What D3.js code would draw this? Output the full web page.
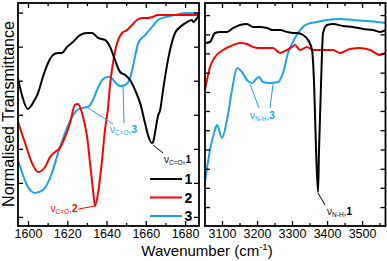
<!DOCTYPE html>
<html><head><meta charset="utf-8">
<script src="https://cdn.jsdelivr.net/npm/d3@7"></script>
<style>
body{margin:0;background:#fff}
svg{display:block}
text{font-family:"Liberation Sans",Arial,Helvetica,sans-serif}
</style>
</head><body>
<svg id="chart" width="387" height="261"></svg>
<script>
// ---------- DATA ----------
const seriesNames = ["1", "2", "3"];
const seriesColors = ["#000000", "#ff0000", "#1ba1ee"];

// Left panel: C=O stretching region (wavenumber, normalised transmittance %)
const leftWave1 = [1594.9,1596.9,1599.8,1601.5,1602.5,1605.1,1607.6,1610.2,1612.7,1615.3,1617.3,1619.9,1622.9,1626.5,1630.1,1632.6,1635.7,1639.2,1641.8,1644.3,1646.9,1649.4,1652.0,1654.5,1657.1,1659.6,1661.1,1663.2,1663.7,1664.7,1666.2,1667.3,1668.8,1671.3,1674.9,1677.5,1681.0,1683.6,1684.1,1686.1,1687.1];
const leftVal1  = [66.5,58.9,52.7,54.0,55.4,59.8,67.0,73.2,76.8,77.7,77.7,80.4,82.6,85.7,86.6,86.6,84.4,83.5,80.4,74.6,69.2,67.9,65.6,61.2,55.4,46.4,41.1,37.5,37.9,42.0,49.6,52.2,61.2,74.6,86.6,89.3,91.5,92.4,91.5,93.3,94.6];

const leftWave2 = [1594.9,1598.5,1602.0,1605.1,1608.7,1611.2,1613.8,1616.3,1618.9,1621.4,1623.9,1625.5,1627.5,1630.1,1631.6,1633.1,1634.1,1635.7,1637.7,1639.2,1640.8,1641.8,1643.3,1645.4,1647.9,1650.4,1653.0,1655.5,1658.1,1660.6,1663.2,1666.2,1673.4,1687.1];
const leftVal2  = [47.0,37.5,28.6,24.6,26.8,31.2,33.5,35.3,40.2,46.4,54.5,54.9,50.9,40.2,28.6,16.5,9.4,15.2,29.9,43.3,53.5,63.5,73.2,82.1,86.6,87.9,90.2,92.4,93.3,93.3,93.7,94.6,94.6,94.6];

const leftWave3 = [1594.9,1600.0,1603.6,1607.6,1612.2,1615.3,1618.9,1622.4,1625.0,1627.5,1630.6,1633.1,1635.2,1637.7,1640.3,1641.8,1644.3,1646.9,1649.4,1652.0,1654.5,1656.1,1659.6,1663.2,1666.2,1669.8,1674.9,1680.0,1687.1];
const leftVal3  = [29.9,17.9,15.2,16.5,24.1,33.0,42.0,49.1,52.2,53.1,53.6,56.7,61.2,65.6,67.0,67.0,64.7,62.9,63.4,66.5,75.9,82.1,85.7,89.3,92.4,93.7,94.6,95.5,95.5];

// Right panel: N-H stretching region
const rightWave1 = [3051.4,3065.7,3080.0,3094.3,3114.3,3131.4,3151.4,3171.4,3188.6,3208.6,3228.6,3245.7,3265.7,3285.7,3302.9,3314.3,3331.4,3345.7,3357.1,3362.9,3368.6,3374.3,3377.1,3382.9,3388.6,3400.0,3417.1,3445.7,3474.3,3502.9,3531.4,3551.4,3567.0];
const rightVal1  = [82.1,82.6,86.6,87.1,87.1,88.8,90.2,90.6,89.3,89.3,88.8,87.9,87.9,87.1,86.6,86.6,85.7,83.5,79.0,64.3,34.4,15.6,34.4,64.3,86.6,90.2,90.6,89.7,89.3,88.4,87.9,87.1,87.9];

const rightWave2 = [3051.4,3065.7,3080.0,3102.9,3131.4,3151.4,3171.4,3188.6,3202.9,3228.6,3245.7,3265.7,3280.0,3300.0,3308.6,3322.9,3342.9,3360.0,3388.6,3417.1,3437.1,3465.7,3494.3,3522.9,3551.4,3567.0];
const rightVal2  = [61.2,71.4,75.9,79.0,81.2,82.1,81.7,80.4,79.9,79.9,79.9,77.7,78.6,80.4,81.2,79.0,80.4,79.0,79.0,79.0,77.7,79.5,79.9,79.0,76.8,77.7];

const rightWave3 = [3051.4,3065.7,3080.0,3085.7,3100.0,3114.3,3128.6,3142.9,3157.1,3171.4,3185.7,3200.0,3205.7,3217.1,3237.1,3260.0,3274.3,3288.6,3308.6,3322.9,3342.9,3371.4,3400.0,3437.1,3474.3,3514.3,3542.9,3567.0];
const rightVal3  = [20.1,34.4,43.3,45.5,39.7,47.8,61.2,71.0,69.2,65.6,64.3,66.5,67.0,64.7,64.3,64.7,68.8,77.7,84.4,87.9,90.6,91.5,92.4,92.9,92.4,92.0,91.5,91.1];

// Tick labels / tick positions
const leftXTicks = [1600, 1620, 1640, 1660, 1680];
const leftXMinor = [1610, 1630, 1650, 1670];
const rightXTicks = [3100, 3200, 3300, 3400, 3500];
const rightXMinor = [3150, 3250, 3350, 3450, 3550];
const leftYTicks = [4.5, 19.7, 34.9, 50.1, 65.3, 80.5, 95.7];
const rightYTicks = [8.9, 17.5, 26.0, 34.6, 43.2, 51.8, 60.3, 68.9, 77.5, 86.0, 94.6];

// ---------- LAYOUT ----------
const svg = d3.select("#chart");
const plotTop = 3, plotBottom = 226;
const y = d3.scaleLinear().domain([0, 100]).range([227, 3]);
const xL = d3.scaleLinear().domain([1594.9, 1687.1]).range([18, 199]);
const xR = d3.scaleLinear().domain([3051.4, 3567]).range([205, 385.5]);

const panels = [
  {x: xL, xt: leftXTicks, xm: leftXMinor, yt: leftYTicks, id: "L",
   series: [[leftWave1, leftVal1], [leftWave2, leftVal2], [leftWave3, leftVal3]]},
  {x: xR, xt: rightXTicks, xm: rightXMinor, yt: rightYTicks, id: "R",
   series: [[rightWave1, rightVal1], [rightWave2, rightVal2], [rightWave3, rightVal3]]}
];

const defs = svg.append("defs");

panels.forEach(p => {
  const [x0, x1] = p.x.range();
  defs.append("clipPath").attr("id", "clip" + p.id)
    .append("rect").attr("x", x0).attr("y", plotTop).attr("width", x1 - x0).attr("height", plotBottom - plotTop);

  const g = svg.append("g");
  const line = d3.line().x(d => p.x(d[0])).y(d => y(d[1])).curve(d3.curveMonotoneX);
  const cg = g.append("g").attr("clip-path", `url(#clip${p.id})`);
  [2, 1, 0].forEach(i => {
    const [w, v] = p.series[i];
    cg.append("path").datum(w.map((d, k) => [d, v[k]]))
      .attr("d", line).attr("fill", "none")
      .attr("stroke", seriesColors[i]).attr("stroke-width", 2)
      .attr("stroke-linejoin", "round");
  });

  const axStyle = sel => {
    sel.select(".domain").remove();
    sel.selectAll(".tick line").attr("stroke", "#000").attr("stroke-width", 1.3);
  };
  g.append("g").attr("transform", `translate(0,${plotBottom})`)
    .call(d3.axisBottom(p.x).tickValues(p.xt).tickSizeInner(-5).tickSizeOuter(0).tickPadding(3.5).tickFormat(d3.format("d")))
    .call(axStyle)
    .call(s => s.selectAll("text").attr("font-size", 12.5).attr("fill", "#000")
      .style("font-family", '"Liberation Sans",Arial,sans-serif'));
  g.append("g").attr("transform", `translate(0,${plotBottom})`)
    .call(d3.axisBottom(p.x).tickValues(p.xm).tickSize(-3).tickFormat(""))
    .call(axStyle);
  g.append("g").attr("transform", `translate(0,${plotTop})`)
    .call(d3.axisTop(p.x).tickValues(p.xt).tickSize(-5).tickFormat(""))
    .call(axStyle);
  g.append("g").attr("transform", `translate(0,${plotTop})`)
    .call(d3.axisTop(p.x).tickValues(p.xm).tickSize(-3).tickFormat(""))
    .call(axStyle);
  g.append("g").attr("transform", `translate(${x0},0)`)
    .call(d3.axisLeft(y).tickValues(p.yt).tickSize(-5).tickFormat(""))
    .call(axStyle);
  g.append("g").attr("transform", `translate(${x1},0)`)
    .call(d3.axisRight(y).tickValues(p.yt).tickSize(-5).tickFormat(""))
    .call(axStyle);
  g.append("rect").attr("x", x0).attr("y", plotTop).attr("width", x1 - x0).attr("height", plotBottom - plotTop)
    .attr("fill", "none").attr("stroke", "#000").attr("stroke-width", 1.8);
});

// ---------- ANNOTATIONS (data-space anchors) ----------
const annotations = [
  {x: xL, color: "#000", sub: "C=O", num: "1", anchor: "start", tx: 1669.3, ty: 28.4,
   lines: [[1663.7, 36.6, 1668.8, 33.0]]},
  {x: xL, color: "#ff0000", sub: "C=O", num: "2", anchor: "end", tx: 1625.2, ty: 6.7,
   lines: [[1634.1, 9.4, 1625.7, 8.0]]},
  {x: xL, color: "#1ba1ee", sub: "C=O", num: "3", anchor: "start", tx: 1641.8, ty: 42.0,
   lines: [[1630.6, 53.1, 1643.3, 46.0], [1648.4, 62.9, 1648.9, 46.4]]},
  {x: xR, color: "#1ba1ee", sub: "N-H", num: "3", anchor: "start", tx: 3180, ty: 48.2,
   lines: [[3180, 63.8, 3205.7, 53.1], [3245.7, 63.8, 3237.1, 53.1]]},
  {x: xR, color: "#000", sub: "N-H", num: "1", anchor: "start", tx: 3400, ty: 5.4,
   lines: [[3374.3, 15.2, 3394.3, 9.8]]}
];
annotations.forEach(a => {
  a.lines.forEach(l => {
    svg.append("line").attr("x1", a.x(l[0])).attr("y1", y(l[1]))
      .attr("x2", a.x(l[2])).attr("y2", y(l[3]))
      .attr("stroke", a.color).attr("stroke-width", 1);
  });
  const t = svg.append("text").attr("x", a.x(a.tx)).attr("y", y(a.ty))
    .attr("fill", a.color).attr("font-size", 10).attr("text-anchor", a.anchor);
  t.append("tspan").text("ν");
  t.append("tspan").attr("font-size", 6.5).attr("dy", 2).text(a.sub);
  t.append("tspan").attr("dy", -2).text(",");
  t.append("tspan").attr("font-weight", "bold").text(a.num);
});

// ---------- LEGEND ----------
const legendY = [179, 197.5, 216];
seriesNames.forEach((n, i) => {
  svg.append("line").attr("x1", 150).attr("x2", 182).attr("y1", legendY[i]).attr("y2", legendY[i])
    .attr("stroke", seriesColors[i]).attr("stroke-width", 2);
  svg.append("text").attr("x", 184.5).attr("y", legendY[i] + 5).attr("font-size", 14)
    .attr("font-weight", "bold").attr("fill", "#000").text(n);
});

// ---------- AXIS TITLES ----------
svg.append("text").attr("transform", "translate(14,114) rotate(-90)")
  .attr("text-anchor", "middle").attr("font-size", 16).attr("fill", "#000")
  .text("Normalised Transmittance");
const xt = svg.append("text").attr("x", 207).attr("y", 256).attr("text-anchor", "middle")
  .attr("font-size", 15).attr("fill", "#000");
xt.append("tspan").text("Wavenumber (cm");
xt.append("tspan").attr("font-size", 9.5).attr("dy", -6).text("-1");
xt.append("tspan").attr("dy", 6).text(")");
</script>
</body></html>
